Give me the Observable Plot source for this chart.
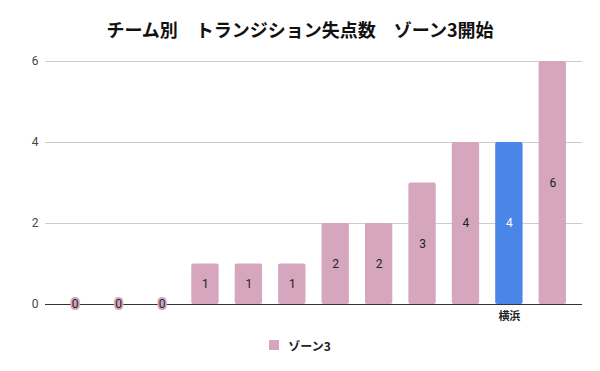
<!DOCTYPE html>
<html>
<head>
<meta charset="utf-8">
<script src="https://cdn.jsdelivr.net/npm/d3@7"></script>
<script src="https://cdn.jsdelivr.net/npm/@observablehq/plot@0.6"></script>
<style>
  html, body { margin: 0; padding: 0; background: #fff; }
  #wrap { width: 600px; height: 371px; position: relative; overflow: hidden; }
  #title { height: 50px; box-sizing: border-box; padding-top: 19px; text-align: center;
    font: bold 18px "Noto Sans CJK JP", sans-serif; color: #111; line-height: 20px; }
  #legend { display: flex; justify-content: center; align-items: center; gap: 9px; height: 20px;
    font: bold 12px "Noto Sans CJK JP", sans-serif; color: #222; }
  #legend .sw { width: 10px; height: 10px; background: #d5a6bd; }
</style>
</head>
<body>
<div id="wrap">
  <div id="title"></div>
  <div id="chart"></div>
  <div id="legend"><div class="sw"></div><span id="legtext"></span></div>
</div>
<script>
const title = "チーム別　トランジション失点数　ゾーン3開始";
const seriesName = "ゾーン3";
const teamIndex = [0,1,2,3,4,5,6,7,8,9,10,11];
const teamLabels = ["","","","","","","","","","","横浜",""];
const values = [0,0,0,1,1,1,2,2,3,4,4,6];
const highlightIndex = 10;
const yTicks = [0,2,4,6];
const pink = "#d5a6bd";
const blue = "#4a86e8";

document.getElementById("title").textContent = title;
document.getElementById("legtext").textContent = seriesName;

const data = teamIndex.map((i) => ({i, label: teamLabels[i], v: values[i], hl: i === highlightIndex}));
const pos = data.filter(d => d.v > 0);
const zero = data.filter(d => d.v === 0);

const chart = Plot.plot({
  width: 600,
  height: 285,
  marginLeft: 45,
  marginRight: 18,
  marginTop: 11,
  marginBottom: 31,
  style: {fontFamily: "Roboto, 'Noto Sans CJK JP', sans-serif", fontSize: "11px", background: "#fff"},
  x: {domain: teamIndex, paddingInner: 0.37, paddingOuter: 0.185, insetLeft: 8, insetRight: 8, round: false, axis: null},
  y: {domain: [0, 6], axis: null},
  marks: [
    Plot.ruleY(yTicks.filter(t => t > 0), {stroke: "#cccccc", strokeWidth: 1}),
    Plot.barY(pos, {x: "i", y: "v", fill: d => d.hl ? blue : pink, rx: 2}),
    Plot.ruleY([0], {stroke: "#333333", strokeWidth: 1}),
    Plot.text(pos, {x: "i", y: d => d.v / 2, text: d => String(d.v), fill: d => d.hl ? "#ffffff" : "#222222", fontSize: 12}),
    Plot.text(zero, {x: "i", y: "v", text: d => String(d.v), fill: "#222222", stroke: pink, strokeWidth: 4, fontSize: 12}),
    Plot.axisY({ticks: yTicks, tickFormat: d3.format("d"), tickSize: 0, tickPadding: 7, fontSize: 12, fill: "#444444", label: null}),
    Plot.axisX({tickSize: 0, tickPadding: 8, tickFormat: i => teamLabels[i], fontSize: 11, fontWeight: "bold", fill: "#222222", label: null,
      fontFamily: "'Noto Sans CJK JP', sans-serif"})
  ]
});
document.getElementById("chart").appendChild(chart);
</script>
</body>
</html>
